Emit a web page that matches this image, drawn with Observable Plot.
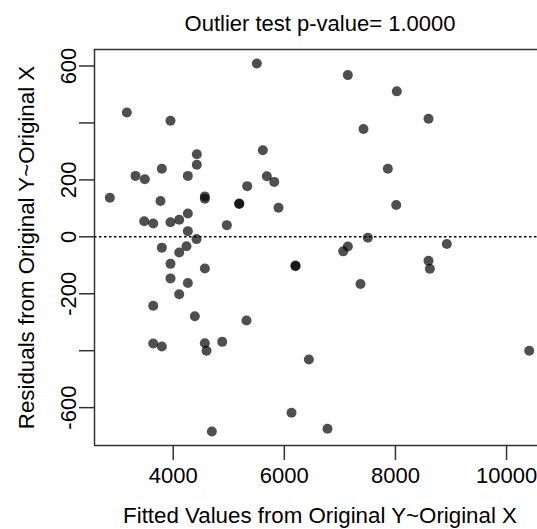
<!DOCTYPE html>
<html>
<head>
<meta charset="utf-8">
<script src="https://cdn.jsdelivr.net/npm/d3@7"></script>
<script src="https://cdn.jsdelivr.net/npm/@observablehq/plot@0.6"></script>
<style>
  html, body { margin: 0; padding: 0; background: #fff; }
  #chart svg { display: block; }
</style>
</head>
<body>
<div id="chart"></div>
<script>
const fittedValues = [3165,3951,4425,4425,3795,3321,3489,4263,2859,3771,4569,4569,5188,5188,5332,3478,3640,3951,4108,4263,4965,4263,4419,3795,4239,4108,3951,4569,3951,4263,4108,3640,4389,5319,3640,3795,4569,4599,4882,4695,5505,7143,8025,7425,5613,5685,5818,7863,5895,8014,7503,7143,7060,6201,6201,7371,6441,6129,6777,8595,8925,8595,8619,10408];
const residuals = [437,408,290,253,239,214,202,214,137,126,142,134,117,115,178,55,47,51,60,82,41,20,-8,-38,-33,-55,-95,-111,-146,-162,-202,-242,-279,-294,-375,-385,-374,-400,-369,-684,609,568,511,379,304,213,193,239,102,112,-3,-34,-51,-101,-103,-166,-431,-618,-674,415,-25,-84,-112,-400];
const xTicks = [4000, 6000, 8000, 10000];
const yTicks = [-600, -400, -200, 0, 200, 400, 600];
const yTickLabels = ["-600", "", "-200", "0", "200", "", "600"];
const xDomain = [2583, 10701];
const yDomain = [-733, 658];
const titleText = "Outlier test p-value= 1.0000";
const xLabel = "Fitted Values from Original Y~Original X";
const yLabel = "Residuals from Original Y~Original X";

const points = fittedValues.map((f, i) => ({fitted: f, resid: residuals[i]}));
const font = "'Liberation Sans', Arial, sans-serif";

const chart = Plot.plot({
  width: 537,
  height: 529,
  marginTop: 49,
  marginBottom: 84,
  marginLeft: 94,
  marginRight: -8,
  style: {fontFamily: font, fontSize: "22px", color: "#000", background: "#fff"},
  x: {domain: xDomain},
  y: {domain: yDomain},
  marks: [
    Plot.ruleY([yDomain[1]], {stroke: "#333", strokeWidth: 1.5}),
    Plot.ruleY([yDomain[0]], {stroke: "#333", strokeWidth: 1.5}),
    Plot.ruleX([xDomain[0]], {stroke: "#333", strokeWidth: 1.5}),
    Plot.ruleY([0], {stroke: "#000", strokeWidth: 1.5, strokeDasharray: "2.5,2.5"}),
    Plot.axisX({ticks: xTicks, tickSize: 15, tickPadding: 6.5, tickFormat: d => String(d), stroke: "#333", strokeWidth: 1.5, fontSize: 22, label: null}),
    Plot.axisY({ticks: yTicks, tickSize: 15, tickPadding: 4, tickRotate: -90, tickFormat: d => yTickLabels[yTicks.indexOf(d)], stroke: "#333", strokeWidth: 1.5, fontSize: 22, label: null}),
    Plot.dot(points, {x: "fitted", y: "resid", r: 5, fill: "#000", fillOpacity: 0.69, stroke: "none"}),
    Plot.text([titleText], {frameAnchor: "top", dy: -18.3, lineAnchor: "bottom", textAnchor: "middle", fontSize: 22, fill: "#000"}),
    Plot.text([xLabel], {frameAnchor: "bottom", dy: 77.7, lineAnchor: "bottom", textAnchor: "middle", fontSize: 22.3, fill: "#000"}),
    Plot.text([yLabel], {frameAnchor: "left", dx: -61, rotate: -90, lineAnchor: "bottom", textAnchor: "middle", fontSize: 22.3, fill: "#000"})
  ]
});
document.getElementById("chart").appendChild(chart);
</script>
</body>
</html>
